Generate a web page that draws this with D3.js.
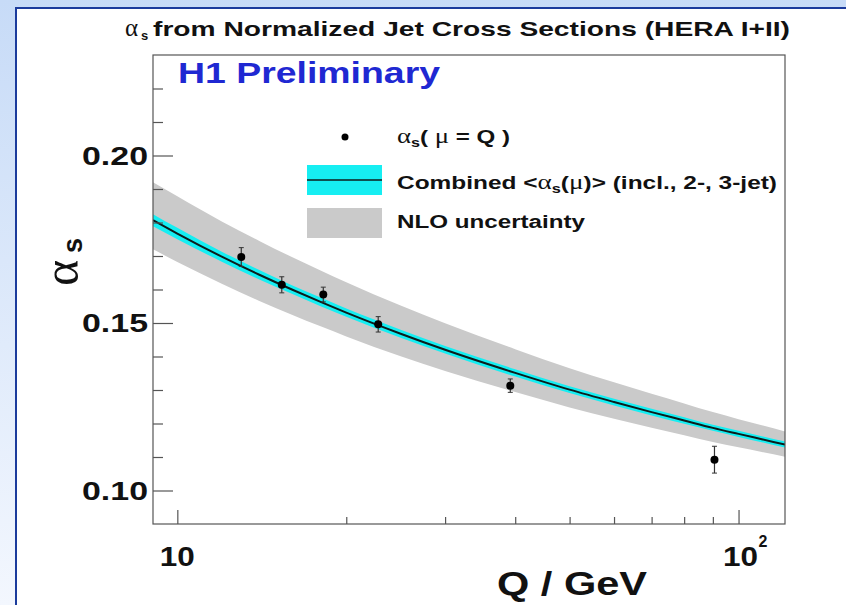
<!DOCTYPE html>
<html>
<head>
<meta charset="utf-8">
<script src="https://cdn.jsdelivr.net/npm/d3@7"></script>
<style>
  html, body { margin: 0; padding: 0; background: #fff; }
  svg { display: block; }
</style>
</head>
<body>
<svg id="chart" width="846" height="605"></svg>
<script>
// Measured points: alpha_s at mu = Q
const pointQ     = [13.0, 15.35, 18.2, 22.8, 39.2, 90.6];
const pointAlpha = [0.1697, 0.1614, 0.1585, 0.1496, 0.1313, 0.1092];
const pointErr   = [0.0028, 0.0024, 0.0022, 0.0023, 0.0020, 0.0040];

// Combined running alpha_s curve with its experimental and NLO bands
const curveQ     = [9.05, 10, 12, 14, 16, 18, 20, 25, 30, 40, 50, 60, 70, 80, 90, 100, 110, 121];
const curveAlpha = [0.1807, 0.1767, 0.1698, 0.1644, 0.1600, 0.1563, 0.1531, 0.1468, 0.1420, 0.1351, 0.1301, 0.1264, 0.1234, 0.1209, 0.1187, 0.1169, 0.1153, 0.1137];
const expHalf    = [0.0018, 0.0017, 0.0015, 0.0014, 0.0013, 0.0013, 0.0012, 0.0012, 0.0011, 0.0011, 0.0010, 0.0010, 0.0010, 0.0010, 0.0009, 0.0009, 0.0009, 0.0009];
const nloHigh    = [0.1920, 0.1878, 0.1803, 0.1745, 0.1697, 0.1657, 0.1622, 0.1552, 0.1499, 0.1422, 0.1365, 0.1323, 0.1289, 0.1260, 0.1234, 0.1213, 0.1195, 0.1176];
const nloLow     = [0.1720, 0.1682, 0.1617, 0.1566, 0.1525, 0.1490, 0.1460, 0.1401, 0.1357, 0.1294, 0.1248, 0.1214, 0.1187, 0.1165, 0.1145, 0.1129, 0.1115, 0.1101];

// Axis ticks
const yMajor = [0.10, 0.15, 0.20];
const yMinor = [0.11, 0.12, 0.13, 0.14, 0.16, 0.17, 0.18, 0.19, 0.21, 0.22];
const yLabels = ["0.10", "0.15", "0.20"];
const xMajor = [10, 100];
const xMinor = [20, 30, 40, 50, 60, 70, 80, 90];

const svg = d3.select("#chart");
const W = 846, H = 605;
const frame = {left: 153, right: 785, top: 55, bottom: 524};

const x = d3.scaleLog().domain([9.05, 121]).range([frame.left, frame.right]);
const y = d3.scaleLinear().domain([0.09, 0.23]).range([frame.bottom, frame.top]);

// Slide background
const defs = svg.append("defs");
const grad = defs.append("linearGradient").attr("id", "bg").attr("x1", 0).attr("y1", 0).attr("x2", 0).attr("y2", 1);
grad.append("stop").attr("offset", "0%").attr("stop-color", "#c7dbf7");
grad.append("stop").attr("offset", "100%").attr("stop-color", "#f3f7fe");
svg.append("rect").attr("width", W).attr("height", H).attr("fill", "url(#bg)");
svg.append("rect").attr("x", 16).attr("y", 8).attr("width", W).attr("height", H)
  .attr("fill", "#ffffff").attr("stroke", "#1b3b9c").attr("stroke-width", 2);

defs.append("clipPath").attr("id", "plotclip").append("rect")
  .attr("x", frame.left).attr("y", frame.top)
  .attr("width", frame.right - frame.left).attr("height", frame.bottom - frame.top);

const plot = svg.append("g").attr("clip-path", "url(#plotclip)");
const idx = d3.range(curveQ.length);

// NLO uncertainty band
plot.append("path")
  .attr("d", d3.area().x(i => x(curveQ[i])).y0(i => y(nloLow[i])).y1(i => y(nloHigh[i])).curve(d3.curveMonotoneX)(idx))
  .attr("fill", "#cacaca");

// Experimental band of the combined value
plot.append("path")
  .attr("d", d3.area().x(i => x(curveQ[i])).y0(i => y(curveAlpha[i] - expHalf[i])).y1(i => y(curveAlpha[i] + expHalf[i])).curve(d3.curveMonotoneX)(idx))
  .attr("fill", "#16eef2");

// Central curve
plot.append("path")
  .attr("d", d3.line().x(i => x(curveQ[i])).y(i => y(curveAlpha[i])).curve(d3.curveMonotoneX)(idx))
  .attr("fill", "none").attr("stroke", "#0c1c1c").attr("stroke-width", 2);

// Data points with error bars
const pts = plot.append("g");
d3.range(pointQ.length).forEach(i => {
  const px = x(pointQ[i]);
  const yt = y(pointAlpha[i] + pointErr[i]);
  const yb = y(pointAlpha[i] - pointErr[i]);
  pts.append("line").attr("x1", px).attr("x2", px).attr("y1", yt).attr("y2", yb)
    .attr("stroke", "#333").attr("stroke-width", 1.2);
  [yt, yb].forEach(yy => pts.append("line").attr("x1", px - 2.5).attr("x2", px + 2.5).attr("y1", yy).attr("y2", yy)
    .attr("stroke", "#333").attr("stroke-width", 1));
  pts.append("circle").attr("cx", px).attr("cy", y(pointAlpha[i])).attr("r", 4).attr("fill", "#000");
});

// Frame and ticks
const axisColor = "#555";
svg.append("rect").attr("x", frame.left).attr("y", frame.top)
  .attr("width", frame.right - frame.left).attr("height", frame.bottom - frame.top)
  .attr("fill", "none").attr("stroke", axisColor).attr("stroke-width", 1.2);

function styleAxis(g) {
  g.select(".domain").remove();
  g.selectAll(".tick line").attr("stroke", axisColor).attr("stroke-width", 1.2);
  g.selectAll(".tick text").remove();
}
svg.append("g").attr("transform", `translate(${frame.left},0)`)
  .call(d3.axisLeft(y).tickValues(yMajor).tickSize(-20).tickFormat("")).call(styleAxis);
svg.append("g").attr("transform", `translate(${frame.left},0)`)
  .call(d3.axisLeft(y).tickValues(yMinor).tickSize(-10).tickFormat("")).call(styleAxis);
svg.append("g").attr("transform", `translate(0,${frame.bottom})`)
  .call(d3.axisBottom(x).tickValues(xMajor).tickSize(-14).tickFormat("")).call(styleAxis);
svg.append("g").attr("transform", `translate(0,${frame.bottom})`)
  .call(d3.axisBottom(x).tickValues(xMinor).tickSize(-7).tickFormat("")).call(styleAxis);

const sans = "'Liberation Sans', Arial, Helvetica, sans-serif";
const serif = "'Liberation Serif', 'DejaVu Serif', serif";

// Y tick labels
yMajor.forEach((v, i) => {
  svg.append("text").attr("x", 148).attr("y", y(v) + 9)
    .attr("text-anchor", "end").attr("font-family", sans).attr("font-weight", "bold")
    .attr("font-size", 26).attr("fill", "#111")
    .attr("textLength", 66).attr("lengthAdjust", "spacingAndGlyphs").text(yLabels[i]);
});

// X tick labels
svg.append("text").attr("x", x(10)).attr("y", 566).attr("text-anchor", "middle")
  .attr("font-family", sans).attr("font-weight", "bold").attr("font-size", 27).attr("fill", "#111")
  .attr("textLength", 35).attr("lengthAdjust", "spacingAndGlyphs").text("10");
svg.append("text").attr("x", x(100) + 2).attr("y", 566).attr("text-anchor", "middle")
  .attr("font-family", sans).attr("font-weight", "bold").attr("font-size", 27).attr("fill", "#111")
  .attr("textLength", 35).attr("lengthAdjust", "spacingAndGlyphs").text("10");
svg.append("text").attr("x", x(100) + 20).attr("y", 547)
  .attr("font-family", sans).attr("font-weight", "bold").attr("font-size", 16).attr("fill", "#111").text("2");

// Axis titles
svg.append("text").attr("x", 497).attr("y", 595)
  .attr("font-family", sans).attr("font-weight", "bold").attr("font-size", 34).attr("fill", "#111")
  .attr("textLength", 150).attr("lengthAdjust", "spacingAndGlyphs").text("Q / GeV");

const yt = svg.append("g").attr("transform", "translate(78,286) rotate(-90)");
yt.append("text").attr("x", 0).attr("y", 0)
  .attr("font-family", serif).attr("font-size", 50).attr("fill", "#111").text("α");
yt.append("text").attr("x", 33).attr("y", 4)
  .attr("font-family", sans).attr("font-weight", "bold").attr("font-size", 27).attr("fill", "#111").text("s");

// Title
svg.append("text").attr("x", 125).attr("y", 36)
  .attr("font-family", serif).attr("font-size", 25).attr("fill", "#111").text("α");
svg.append("text").attr("x", 141).attr("y", 40)
  .attr("font-family", sans).attr("font-weight", "bold").attr("font-size", 13).attr("fill", "#111").text("s");
svg.append("text").attr("x", 153).attr("y", 36)
  .attr("font-family", sans).attr("font-weight", "bold").attr("font-size", 21).attr("fill", "#111")
  .attr("textLength", 637).attr("lengthAdjust", "spacingAndGlyphs")
  .text("from Normalized Jet Cross Sections (HERA I+II)");

// Experiment label
svg.append("text").attr("x", 178).attr("y", 83)
  .attr("font-family", sans).attr("font-weight", "bold").attr("font-size", 30).attr("fill", "#1f28d2")
  .attr("textLength", 262).attr("lengthAdjust", "spacingAndGlyphs").text("H1 Preliminary");

// Legend
const leg = svg.append("g");
leg.append("circle").attr("cx", 345).attr("cy", 137).attr("r", 3.5).attr("fill", "#000");
leg.append("rect").attr("x", 307).attr("y", 165).attr("width", 75).attr("height", 30).attr("fill", "#16eef2");
leg.append("line").attr("x1", 307).attr("x2", 382).attr("y1", 180).attr("y2", 180).attr("stroke", "#0c1c1c").attr("stroke-width", 1.5);
leg.append("rect").attr("x", 307).attr("y", 208).attr("width", 75).attr("height", 30).attr("fill", "#cacaca");

function legendText(yy, len, parts) {
  const t = leg.append("text").attr("x", 397).attr("y", yy)
    .attr("font-family", sans).attr("font-weight", "bold").attr("font-size", 18).attr("fill", "#111")
    .attr("textLength", len).attr("lengthAdjust", "spacingAndGlyphs");
  parts.forEach(p => {
    const s = t.append("tspan").text(p.t);
    if (p.greek) s.attr("font-family", serif).attr("font-weight", "normal").attr("font-size", 20);
    if (p.sub) s.attr("font-size", 12).attr("dy", 4);
    if (p.up) s.attr("dy", -4);
  });
}
legendText(143, 113, [{t: "α", greek: true}, {t: "s", sub: true}, {t: "( ", up: true}, {t: "μ", greek: true}, {t: " = Q )"}]);
legendText(189, 380, [{t: "Combined <"}, {t: "α", greek: true}, {t: "s", sub: true}, {t: "(", up: true}, {t: "μ", greek: true}, {t: ")> (incl., 2-, 3-jet)"}]);
legendText(228, 188, [{t: "NLO uncertainty"}]);
</script>
</body>
</html>
